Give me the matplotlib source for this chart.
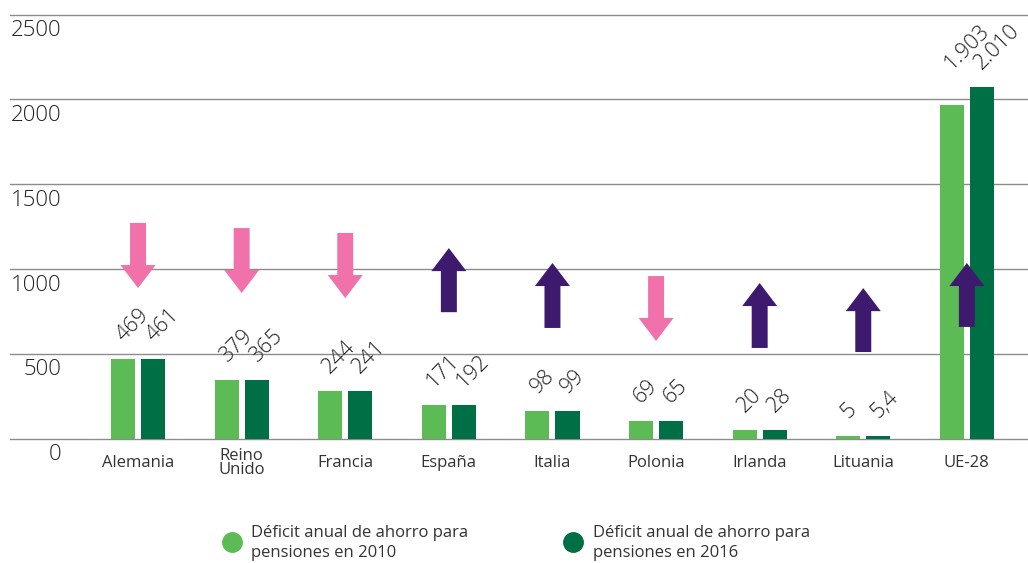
import matplotlib
matplotlib.use('Agg')
import matplotlib.pyplot as plt
from matplotlib.lines import Line2D
import numpy as np

plt.rcParams['font.family'] = ['Open Sans', 'DejaVu Sans']

# 1. datos
paises = ['Alemania', 'Reino\nUnido', 'Francia', 'España', 'Italia',
          'Polonia', 'Irlanda', 'Lituania', 'UE-28']
# altura de las barras tal como aparecen dibujadas
barras_2010 = [470, 346, 281, 199, 163, 104, 51, 16, 1968]
barras_2016 = [470, 346, 281, 199, 163, 104, 51, 16, 2074]
# rótulos de valor (miles de millones)
rotulos_2010 = ['469', '379', '244', '171', '98', '69', '20', '5', '1.903']
rotulos_2016 = ['461', '365', '241', '192', '99', '65', '28', '5,4', '2.010']
# flechas de tendencia: desde / hasta en unidades del eje
flecha_desde = [1272, 1242, 1213, 746, 653, 959, 535, 511, 659]
flecha_hasta = [888, 859, 829, 1124, 1036, 576, 918, 888, 1036]
yticks = [0, 500, 1000, 1500, 2000, 2500]
leyenda = ['Déficit anual de ahorro para\npensiones en 2010',
           'Déficit anual de ahorro para\npensiones en 2016']

# 2. estilo
VERDE_CLARO = '#5dbb55'
VERDE_OSCURO = '#006f46'
ROSA = '#f172aa'
MORADO = '#3e1a6e'
TEXTO = '#333333'
GRID = '#8c8c8c'

W, H = 1028, 563
fig = plt.figure(figsize=(W / 100, H / 100), dpi=100)
ax = fig.add_axes([10 / W, 1 - 438.7 / H, 1018 / W, 424 / H])

x = np.arange(len(paises))
ancho = 0.232
desp = 0.145

for v in yticks:
    ax.axhline(v, color=GRID, lw=1.0, zorder=0, clip_on=False)
    ax.annotate(str(v), xy=(0.0501, v), xycoords=ax.get_yaxis_transform(),
                xytext=(0, -11.5), textcoords='offset points',
                ha='right', va='center', fontsize=16, color='#222222',
                fontweight='light')

ax.bar(x - desp, barras_2010, ancho, color=VERDE_CLARO, zorder=2)
ax.bar(x + desp, barras_2016, ancho, color=VERDE_OSCURO, zorder=2)

# rótulos de valor, a la altura de la barra más alta del par
for i in range(len(paises)):
    top = max(barras_2010[i], barras_2016[i])
    for dx, txt in ((-desp, rotulos_2010[i]), (desp, rotulos_2016[i])):
        ax.annotate(txt, xy=(x[i] + dx, top), xytext=(0, 12.5),
                    textcoords='offset points', rotation=45,
                    rotation_mode='anchor', ha='left', va='baseline',
                    fontsize=15.5, color='#222222', fontweight='light')

# flechas
for i in range(len(paises)):
    col = MORADO if flecha_hasta[i] > flecha_desde[i] else ROSA
    ax.annotate('', xy=(x[i], flecha_hasta[i]), xytext=(x[i], flecha_desde[i]),
                arrowprops=dict(arrowstyle='simple,head_length=1.66,head_width=2.52,tail_width=1.15',
                                mutation_scale=10, color=col, lw=0,
                                shrinkA=0, shrinkB=0), zorder=3)

# etiquetas de categoría
for i, p in enumerate(paises):
    ax.text(x[i], -0.057, p, transform=ax.get_xaxis_transform(),
            ha='center', va='center', fontsize=12, color=TEXTO,
            linespacing=0.85)

ax.set_xlim(-1.236, 8.59)
ax.set_ylim(0, 2500)
ax.set_xticks([])
ax.set_yticks([])
for s in ax.spines.values():
    s.set_visible(False)

# leyenda manual
for xm, xt, col, lab in ((232, 251, VERDE_CLARO, leyenda[0]),
                         (573, 593, VERDE_OSCURO, leyenda[1])):
    fig.add_artist(Line2D([xm / W], [1 - 542 / H], marker='o', ms=14, ls='',
                          color=col, transform=fig.transFigure))
    fig.text(xt / W, 1 - 543 / H, lab, ha='left', va='center',
             fontsize=12, color=TEXTO, linespacing=1.3)

fig.savefig('out.png', dpi=100)
